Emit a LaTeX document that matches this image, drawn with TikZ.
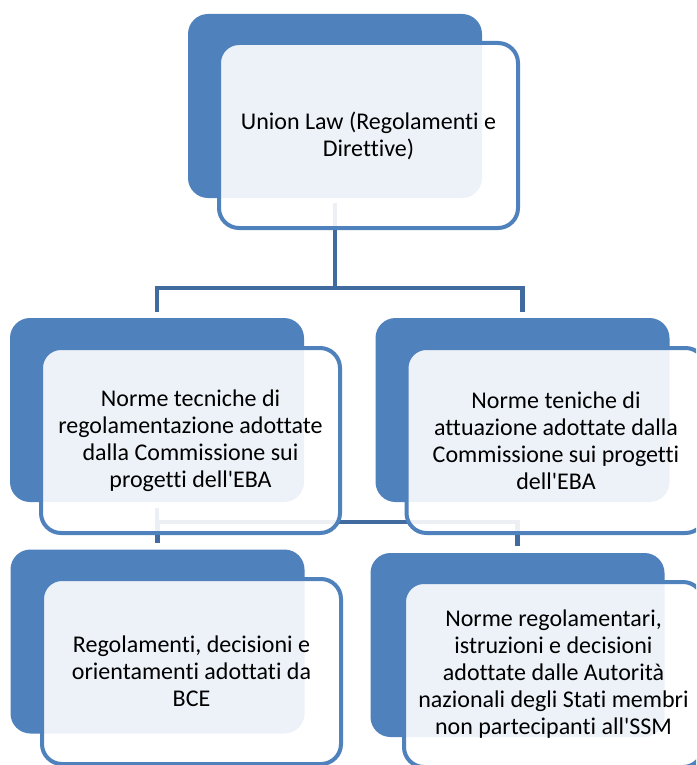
\documentclass[tikz,border=0pt]{standalone}
\usepackage{fontspec}
\setmainfont{Carlito}[Ligatures={NoCommon}]
\usetikzlibrary{positioning,calc}
\definecolor{accent}{RGB}{79,129,189}
\definecolor{linkblue}{RGB}{65,106,158}

\tikzset{
  backbox/.style={fill=accent, rounded corners=20pt, minimum width=294pt, minimum height=184pt, inner sep=0pt},
  frontbox/.style={draw=accent, line width=4pt, fill=white, fill opacity=0.9, text opacity=1,
    rounded corners=20pt, minimum width=299pt, minimum height=185pt, inner sep=0pt,
    align=center, font=\fontsize{24}{27}\selectfont},
  link/.style={draw=linkblue, line width=4.5pt}
}

\begin{document}
\begin{tikzpicture}[x=1pt, y=-1pt]
\clip (0,0) rectangle (696,765);
\fill[white] (0,0) rectangle (696,765);

% back boxes
\node[backbox] (lawback) at (335,106) {};
\node[backbox] (rtsback) at (157,410) {};
\node[backbox] (itsback) at (522.5,410) {};
\node[backbox] (bceback) at (157.5,641.5) {};
\node[backbox] (ncaback) at (517.5,645) {};

% connectors
\draw[link] ([yshift=-5pt]lawback.south) -- ++(0,85) -| ([yshift=6pt]rtsback.north);
\draw[link] ([yshift=-5pt]lawback.south) -- ++(0,85) -| ([yshift=6pt]itsback.north);
\draw[link] ([yshift=-6pt]rtsback.south) -- ++(0,14) -| ([yshift=6pt]bceback.north);
\draw[link] ([yshift=-6pt]rtsback.south) -- ++(0,14) -| ([yshift=7pt]ncaback.north);

% front boxes
\node[frontbox] (law) at ($(lawback)+(33.5,29.5)$)
  {Union Law (Regolamenti e\\Direttive)};
\node[frontbox] (rts) at ($(rtsback)+(33.5,30.5)$)
  {Norme tecniche di\\regolamentazione adottate\\dalla Commissione sui\\progetti dell\textquotesingle EBA};
\node[frontbox] (its) at ($(itsback)+(33.5,30.5)$)
  {Norme teniche di\\attuazione adottate dalla\\Commissione sui progetti\\dell\textquotesingle EBA};
\node[frontbox] (bce) at ($(bceback)+(34,30)$)
  {Regolamenti, decisioni e\\orientamenti adottati da\\BCE};
\node[frontbox] (nca) at ($(ncaback)+(36,29.5)$)
  {Norme regolamentari,\\istruzioni e decisioni\\adottate dalle Autorità\\nazionali degli Stati membri\\non partecipanti all\textquotesingle SSM};
\end{tikzpicture}
\end{document}
